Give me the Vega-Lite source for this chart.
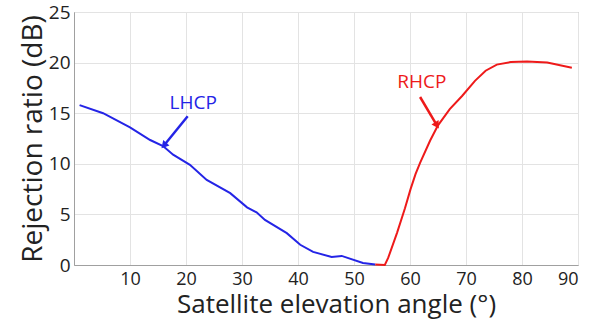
{
  "$schema": "https://vega.github.io/schema/vega-lite/v6.json",
  "width": 504,
  "height": 253,
  "autosize": {"type": "none"},
  "padding": {"left": 74, "top": 12, "right": 28, "bottom": 58},
  "background": "white",
  "config": {
    "font": "Open Sans",
    "view": {"stroke": "#a0a0a0", "strokeWidth": 1}
  },
  "datasets": {
    "curves": [
      {"angle": 1, "ratio": 15.8, "pol": "LHCP"},
      {"angle": 5.2, "ratio": 15.0, "pol": "LHCP"},
      {"angle": 10, "ratio": 13.6, "pol": "LHCP"},
      {"angle": 13.6, "ratio": 12.35, "pol": "LHCP"},
      {"angle": 15.9, "ratio": 11.75, "pol": "LHCP"},
      {"angle": 17.7, "ratio": 10.9, "pol": "LHCP"},
      {"angle": 20.7, "ratio": 9.9, "pol": "LHCP"},
      {"angle": 23.7, "ratio": 8.4, "pol": "LHCP"},
      {"angle": 27.9, "ratio": 7.1, "pol": "LHCP"},
      {"angle": 30.9, "ratio": 5.7, "pol": "LHCP"},
      {"angle": 32.6, "ratio": 5.2, "pol": "LHCP"},
      {"angle": 34.1, "ratio": 4.45, "pol": "LHCP"},
      {"angle": 38, "ratio": 3.15, "pol": "LHCP"},
      {"angle": 40.4, "ratio": 2.0, "pol": "LHCP"},
      {"angle": 42.7, "ratio": 1.3, "pol": "LHCP"},
      {"angle": 46, "ratio": 0.8, "pol": "LHCP"},
      {"angle": 47.8, "ratio": 0.9, "pol": "LHCP"},
      {"angle": 51.6, "ratio": 0.2, "pol": "LHCP"},
      {"angle": 53.8, "ratio": 0.05, "pol": "LHCP"},
      {"angle": 53.8, "ratio": 0.05, "pol": "RHCP"},
      {"angle": 55.5, "ratio": 0.0, "pol": "RHCP"},
      {"angle": 56.1, "ratio": 0.7, "pol": "RHCP"},
      {"angle": 57.7, "ratio": 3.2, "pol": "RHCP"},
      {"angle": 59.1, "ratio": 5.6, "pol": "RHCP"},
      {"angle": 60.1, "ratio": 7.5, "pol": "RHCP"},
      {"angle": 61.0, "ratio": 9.0, "pol": "RHCP"},
      {"angle": 61.8, "ratio": 10.1, "pol": "RHCP"},
      {"angle": 63.6, "ratio": 12.3, "pol": "RHCP"},
      {"angle": 65.0, "ratio": 13.8, "pol": "RHCP"},
      {"angle": 67.1, "ratio": 15.4, "pol": "RHCP"},
      {"angle": 69.3, "ratio": 16.7, "pol": "RHCP"},
      {"angle": 71.6, "ratio": 18.2, "pol": "RHCP"},
      {"angle": 73.5, "ratio": 19.2, "pol": "RHCP"},
      {"angle": 75.5, "ratio": 19.8, "pol": "RHCP"},
      {"angle": 78, "ratio": 20.05, "pol": "RHCP"},
      {"angle": 80.9, "ratio": 20.1, "pol": "RHCP"},
      {"angle": 84.5, "ratio": 20.0, "pol": "RHCP"},
      {"angle": 88.9, "ratio": 19.5, "pol": "RHCP"}
    ],
    "labels": [
      {"angle": 21.3, "ratio": 16.0, "pol": "LHCP"},
      {"angle": 62.1, "ratio": 18.1, "pol": "RHCP"}
    ],
    "arrows": [
      {"x1": 20.3, "y1": 14.7, "x2": 16.2, "y2": 11.9, "pol": "LHCP", "dir": 222},
      {"x1": 61.8, "y1": 16.6, "x2": 64.7, "y2": 13.9, "pol": "RHCP", "dir": 148}
    ]
  },
  "layer": [
    {
      "data": {"name": "curves"},
      "mark": {"type": "line", "strokeWidth": 2},
      "encoding": {
        "x": {
          "field": "angle", "type": "quantitative",
          "scale": {"domain": [0, 90], "nice": false},
          "axis": {
            "title": "Satellite elevation angle (°)",
            "values": [10, 20, 30, 40, 50, 60, 70, 80, 90],
            "grid": true, "gridColor": "#e3e3e3",
            "ticks": false, "domainColor": "#a0a0a0",
            "labelFontSize": 18, "labelColor": "#222", "labelPadding": 5,
            "titleFontSize": 26, "titleFontWeight": "normal", "titleColor": "#222",
            "titlePadding": 3, "titleX": 262
          }
        },
        "y": {
          "field": "ratio", "type": "quantitative",
          "scale": {"domain": [0, 25], "nice": false},
          "axis": {
            "title": "Rejection ratio (dB)",
            "values": [0, 5, 10, 15, 20, 25],
            "grid": true, "gridColor": "#e3e3e3",
            "ticks": false, "domainColor": "#a0a0a0",
            "labelFontSize": 19, "labelColor": "#222", "labelPadding": 4,
            "titleFontSize": 28, "titleFontWeight": "normal", "titleColor": "#222",
            "titlePadding": 1
          }
        },
        "color": {
          "field": "pol", "type": "nominal",
          "scale": {"domain": ["LHCP", "RHCP"], "range": ["#2424e6", "#ee1a1a"]},
          "legend": null
        }
      }
    },
    {
      "data": {"name": "labels"},
      "mark": {"type": "text", "fontSize": 19, "align": "center", "baseline": "middle"},
      "encoding": {
        "x": {"field": "angle", "type": "quantitative"},
        "y": {"field": "ratio", "type": "quantitative"},
        "text": {"field": "pol"},
        "color": {"field": "pol", "type": "nominal", "legend": null}
      }
    },
    {
      "data": {"name": "arrows"},
      "mark": {"type": "rule", "strokeWidth": 2.5},
      "encoding": {
        "x": {"field": "x1", "type": "quantitative"},
        "y": {"field": "y1", "type": "quantitative"},
        "x2": {"field": "x2"},
        "y2": {"field": "y2"},
        "color": {"field": "pol", "type": "nominal", "legend": null}
      }
    },
    {
      "data": {"name": "arrows"},
      "mark": {"type": "point", "shape": "triangle", "filled": true, "size": 70, "opacity": 1},
      "encoding": {
        "x": {"field": "x2", "type": "quantitative"},
        "y": {"field": "y2", "type": "quantitative"},
        "angle": {"field": "dir", "type": "quantitative", "scale": null},
        "color": {"field": "pol", "type": "nominal", "legend": null}
      }
    }
  ]
}
